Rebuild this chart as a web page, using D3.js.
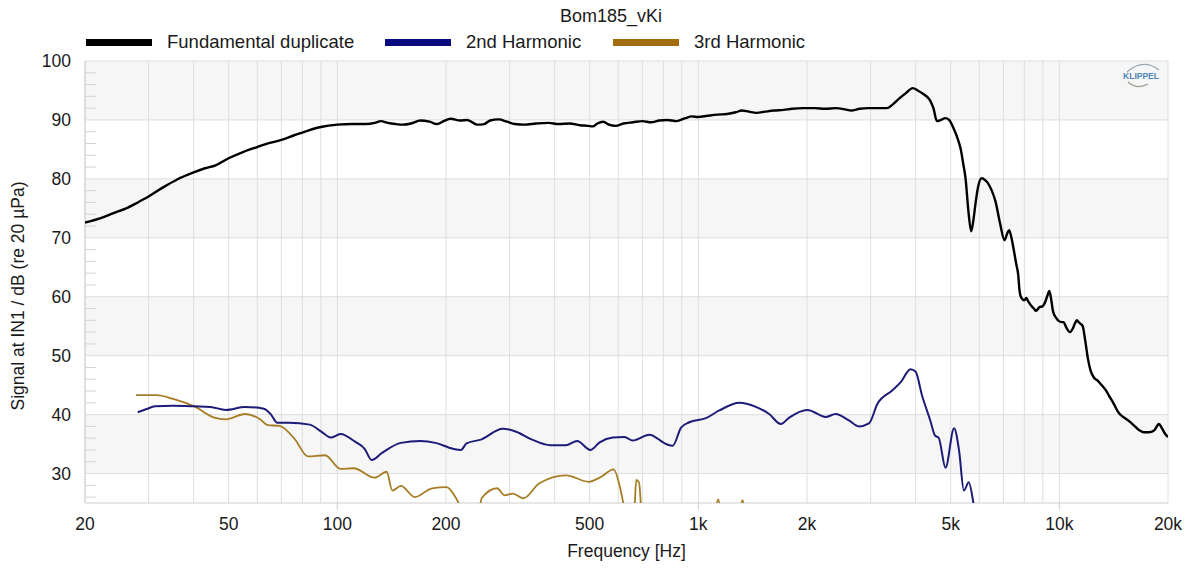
<!DOCTYPE html>
<html><head><meta charset="utf-8">
<script src="https://cdn.jsdelivr.net/npm/d3@7"></script>
<style>
html,body{margin:0;padding:0;background:#fff;}
svg text{font-family:"Liberation Sans",Arial,sans-serif;fill:#1a1a1a;}
</style></head>
<body><svg id="chart" width="1187" height="568"></svg>
<script>
const title = "Bom185_vKi";
const seriesNames = ["Fundamental duplicate", "2nd Harmonic", "3rd Harmonic"];
const seriesColors = ["#000000", "#1c1c78", "#a67c25"];
const swatchColors = ["#000000", "#0a0a80", "#a06c0c"];
const xTickValues = [20, 50, 100, 200, 500, 1000, 2000, 5000, 10000, 20000];
const xTickLabels = ["20", "50", "100", "200", "500", "1k", "2k", "5k", "10k", "20k"];
const yTickValues = [30, 40, 50, 60, 70, 80, 90, 100];
const xLabel = "Frequency [Hz]";
const yLabel = "Signal at IN1 / dB (re 20 µPa)";

const fundFreq = [20,22,24,26,28,30,33,36,40,43,46,50,55,60,65,70,76,83,90,100,110,120,127,132,138,145,152,160,170,180,189,197,206,219,229,244,255,265,280,295,310,330,355,385,410,440,470,495,510,525,545,565,590,620,660,700,740,780,820,870,920,960,1000,1060,1130,1200,1270,1320,1380,1450,1530,1620,1720,1820,1950,2100,2250,2400,2550,2650,2800,2950,3150,3330,3450,3612,3750,3926,4050,4200,4376,4480,4580,4700,4830,4950,5100,5250,5334,5420,5500,5600,5700,5780,5850,5950,6090,6200,6320,6500,6660,6850,7050,7180,7260,7380,7500,7600,7690,7760,7850,8000,8100,8200,8350,8500,8620,8800,8995,9150,9280,9380,9480,9600,9800,9950,10150,10270,10450,10700,10900,11050,11180,11350,11500,11610,11800,12000,12200,12460,12750,13100,13500,13700,14100,14600,15100,15600,16200,16700,17150,17700,18300,18880,19200,19650,20000];
const fundDb = [72.6,73.3,74.2,75.0,76.0,77.0,78.6,79.9,81.1,81.8,82.3,83.5,84.6,85.4,86.1,86.6,87.4,88.2,88.8,89.2,89.3,89.3,89.5,89.8,89.5,89.3,89.2,89.4,89.9,89.7,89.3,89.8,90.2,89.9,90.0,89.2,89.3,89.9,90.1,89.7,89.3,89.2,89.4,89.5,89.3,89.4,89.1,89.0,88.9,89.4,89.7,89.2,89.0,89.4,89.6,89.8,89.6,89.9,90.0,89.8,90.3,90.6,90.5,90.7,90.9,91.0,91.3,91.6,91.4,91.2,91.4,91.6,91.7,91.9,92.0,92.0,91.9,92.0,91.8,91.6,91.9,92.0,92.0,92.0,92.6,93.7,94.5,95.4,95.0,94.4,93.4,92.0,89.8,90.0,90.3,90.0,88.5,86.5,85.0,82.5,80.0,74.5,71.1,73.0,75.5,78.5,80.1,79.9,79.4,78.0,76.1,72.5,69.6,70.8,71.3,69.8,67.5,65.5,63.8,61.0,59.8,59.4,59.8,59.2,58.5,58.0,57.6,58.2,58.4,59.2,60.3,61.0,59.8,57.6,56.4,55.9,55.7,55.7,54.8,54.0,54.6,55.5,56.0,55.6,55.3,55.0,52.5,49.5,47.5,46.3,45.8,45.0,44.0,43.3,42.0,40.3,39.5,38.9,38.0,37.3,37.0,37.0,37.3,38.4,37.8,36.7,36.2];

const h2Freq = [28,29.5,31.3,35,40.4,44.5,49.1,55.5,62.6,65.5,68.2,73.4,83.9,90.3,95.9,102,112,119,124.5,133,150,170,187,209,220,228,251,287,313,345,389,429,462,502,533,580,624,658,732,814,849,896,944,1050,1143,1298,1443,1571,1693,1785,2006,2254,2400,2614,2785,2970,3133,3444,3636,3870,3996,4168,4391,4531,4630,4839,5109,5276,5440,5612,5790,5900];
const h2Db = [40.4,40.9,41.4,41.5,41.4,41.3,40.8,41.3,41.0,40.0,38.6,38.6,38.3,37.1,36.1,36.7,35.4,34.2,32.3,33.5,35.2,35.5,35.2,34.2,34.0,35.1,35.8,37.6,37.1,35.8,34.8,34.8,35.5,34.0,35.3,36.1,36.2,35.6,36.6,35.0,34.7,37.8,38.7,39.4,40.7,42.0,41.3,40.1,38.4,39.5,40.8,39.6,40.1,39.0,38.0,38.5,41.8,44.1,45.5,47.7,47.3,43.2,39.0,36.4,36.1,31.0,37.7,33.9,27.1,28.5,24.8,22.0];

const h3Freq = [27.7,31.6,34.9,40.4,45.6,49.1,55.5,61.1,64.2,69.1,76.1,82.9,92.5,102,111,127,137,142,150,164,183,201,210,217,225,245,251,277,291,306,328,362,430,497,533,583,605,620,640,665,673,685,700,1100,1135,1170,1290,1325,1360];
const h3Db = [43.3,43.3,42.7,41.3,39.5,39.2,40.1,39.2,38.2,38.1,35.9,32.9,33.1,30.8,30.9,29.3,30.3,27.1,27.9,26.0,27.5,27.7,26.5,24.9,22.0,22.0,25.8,27.5,26.3,26.6,25.8,28.3,29.7,28.6,29.3,30.7,28.0,24.9,21.0,24.0,28.9,28.5,22.0,22.0,25.6,22.0,22.0,25.5,22.0];

const svg = d3.select("#chart");
const L = 85, R = 1168, T = 61, B = 503;
const x = d3.scaleLog().domain([20, 20000]).range([L, R]);
const y = d3.scaleLinear().domain([25, 100]).range([B, T]);

// background bands
const bands = [[90,100],[70,80],[50,60],[30,40]];
svg.append("g").selectAll("rect").data(bands).join("rect")
  .attr("x", L).attr("width", R - L)
  .attr("y", d => y(d[1])).attr("height", d => y(d[0]) - y(d[1]))
  .attr("fill", "#f6f6f6");

// vertical grid
const gridX = [];
[10,100,1000,10000].forEach(dec => { for (let m = 1; m <= 9; m++) { const v = dec*m; if (v >= 20 && v <= 20000) gridX.push(v); } });
svg.append("g").selectAll("line").data(gridX).join("line")
  .attr("x1", d => x(d)).attr("x2", d => x(d)).attr("y1", T).attr("y2", B)
  .attr("stroke", "#dedede").attr("stroke-width", 1);
// horizontal grid
svg.append("g").selectAll("line").data(yTickValues).join("line")
  .attr("x1", L).attr("x2", R).attr("y1", d => y(d)).attr("y2", d => y(d))
  .attr("stroke", "#dedede").attr("stroke-width", 1);
// frame
svg.append("line").attr("x1", L).attr("x2", L).attr("y1", T).attr("y2", B).attr("stroke", "#cfcfcf");
svg.append("line").attr("x1", L).attr("x2", R).attr("y1", B).attr("y2", B).attr("stroke", "#cfcfcf");
// minor y ticks
const minorY = d3.range(26, 100, 2).filter(v => v % 10 !== 0);
svg.append("g").selectAll("line").data(minorY).join("line")
  .attr("x1", L).attr("x2", L + 11).attr("y1", d => y(d)).attr("y2", d => y(d))
  .attr("stroke", "#d4d4d4");
// x decade ticks below
svg.append("g").selectAll("line").data([100,1000,10000]).join("line")
  .attr("x1", d => x(d)).attr("x2", d => x(d)).attr("y1", B).attr("y2", B + 7)
  .attr("stroke", "#cfcfcf");

// axes labels
svg.append("g").selectAll("text").data(yTickValues).join("text")
  .attr("x", 71).attr("y", d => y(d) + 6).attr("text-anchor", "end")
  .style("font-size", "17.5px").text(d => d);
svg.append("g").selectAll("text").data(xTickValues).join("text")
  .attr("x", d => x(d)).attr("y", 530).attr("text-anchor", "middle")
  .style("font-size", "17.5px").text((d, i) => xTickLabels[i]);
svg.append("text").attr("x", (L + R) / 2).attr("y", 557).attr("text-anchor", "middle")
  .style("font-size", "17.5px").text(xLabel);
svg.append("text").attr("transform", "translate(24,296) rotate(-90)").attr("text-anchor", "middle")
  .style("font-size", "17.5px").text(yLabel);
svg.append("text").attr("x", 611).attr("y", 22).attr("text-anchor", "middle")
  .style("font-size", "18px").text(title);

// legend
const legendX = [86, 385, 613];
seriesNames.forEach((n, i) => {
  svg.append("rect").attr("x", legendX[i]).attr("y", 39).attr("width", 66).attr("height", 7).attr("fill", swatchColors[i]);
  svg.append("text").attr("x", legendX[i] + 81).attr("y", 48).style("font-size", "18.5px").text(n);
});

// logo
const lg = svg.append("g");
lg.append("path").attr("d", "M1127,72 Q1143,58 1159,70").attr("fill", "none").attr("stroke", "#9aa6b0").attr("stroke-width", 1.2);
lg.append("path").attr("d", "M1128,82 Q1137,90 1148,84").attr("fill", "none").attr("stroke", "#a09a90").attr("stroke-width", 1.2);
lg.append("text").attr("x", 1141).attr("y", 79).attr("text-anchor", "middle")
  .style("font-size", "8.5px").style("font-weight", "bold").style("fill", "#4f86b8").text("KLIPPEL");

// clip
svg.append("clipPath").attr("id", "clip").append("rect").attr("x", L).attr("y", T).attr("width", R - L).attr("height", B - T);

const line = d3.line().x(d => x(d[0])).y(d => y(d[1])).curve(d3.curveMonotoneX);
const series = [
  { f: h3Freq, v: h3Db, c: seriesColors[2], w: 1.8 },
  { f: h2Freq, v: h2Db, c: seriesColors[1], w: 2 },
  { f: fundFreq, v: fundDb, c: seriesColors[0], w: 2.4 }
];
const gL = svg.append("g").attr("clip-path", "url(#clip)");
series.forEach(s => {
  gL.append("path").datum(s.f.map((f, i) => [f, s.v[i]]))
    .attr("d", line).attr("fill", "none").attr("stroke", s.c).attr("stroke-width", s.w)
    .attr("stroke-linejoin", "round");
});
</script></body></html>
